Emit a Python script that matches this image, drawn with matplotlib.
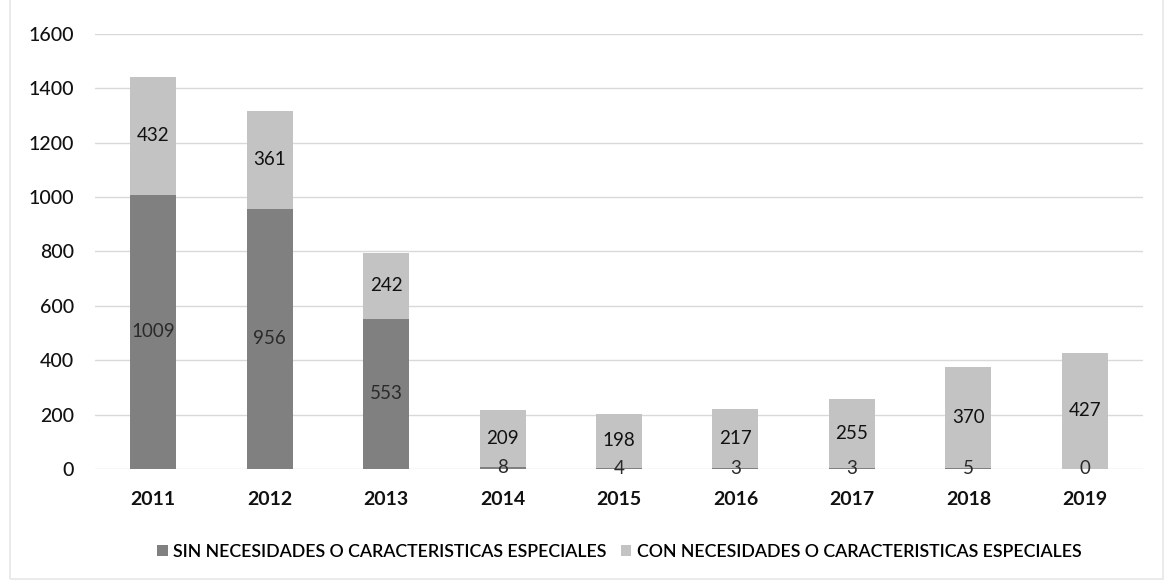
import numpy as np
import matplotlib.pyplot as plt
from matplotlib.patches import Rectangle

years = ['2011', '2012', '2013', '2014', '2015', '2016', '2017', '2018', '2019']
sin_necesidades = [1009, 956, 553, 8, 4, 3, 3, 5, 0]
con_necesidades = [432, 361, 242, 209, 198, 217, 255, 370, 427]

labels = ['SIN NECESIDADES O CARACTERISTICAS ESPECIALES',
          'CON NECESIDADES O CARACTERISTICAS ESPECIALES']

plt.rcParams['font.family'] = ['Lato', 'DejaVu Sans']

fig = plt.figure(figsize=(11.64, 5.84), dpi=100)
ax = fig.add_axes([0.0816, 0.197, 0.9004, 0.745])

x = np.arange(len(years))
w = 0.395
b1 = ax.bar(x, sin_necesidades, w, color='#808080', label=labels[0], zorder=2)
b2 = ax.bar(x, con_necesidades, w, bottom=sin_necesidades, color='#c3c3c3',
            label=labels[1], zorder=2)

ax.bar_label(b1, label_type='center', fontsize=13.5, color='#2a2a2a')
ax.bar_label(b2, label_type='center', fontsize=13.5, color='#111111')

ax.set_xlim(-0.5, len(years) - 0.5)
ax.set_ylim(0, 1600)
ax.set_yticks(np.arange(0, 1601, 200))
ax.set_xticks(x)
ax.set_xticklabels(years)
ax.yaxis.grid(True, color='#d9d9d9', linewidth=1.0, zorder=0)
for s in ax.spines.values():
    s.set_visible(False)
ax.tick_params(axis='both', length=0, labelsize=14, colors='#111111')
ax.tick_params(axis='y', pad=15)
ax.tick_params(axis='x', pad=16)
for t in ax.get_yticklabels():
    t.set_fontweight('medium')
for t in ax.get_xticklabels():
    t.set_fontweight('bold')

leg = fig.legend(loc='center', bbox_to_anchor=(0.532, 0.055), ncol=2, frameon=False,
                 fontsize=12.8, handlelength=0.6, handleheight=0.6,
                 handletextpad=0.3, columnspacing=0.8)
for t in leg.get_texts():
    t.set_fontweight('semibold')

# faint chart border
fig.add_artist(Rectangle((0.009, 0.008), 0.99, 1.1, transform=fig.transFigure,
                         fill=False, edgecolor='#e6e6e6', linewidth=1.2))

fig.savefig('out.png', dpi=100)
